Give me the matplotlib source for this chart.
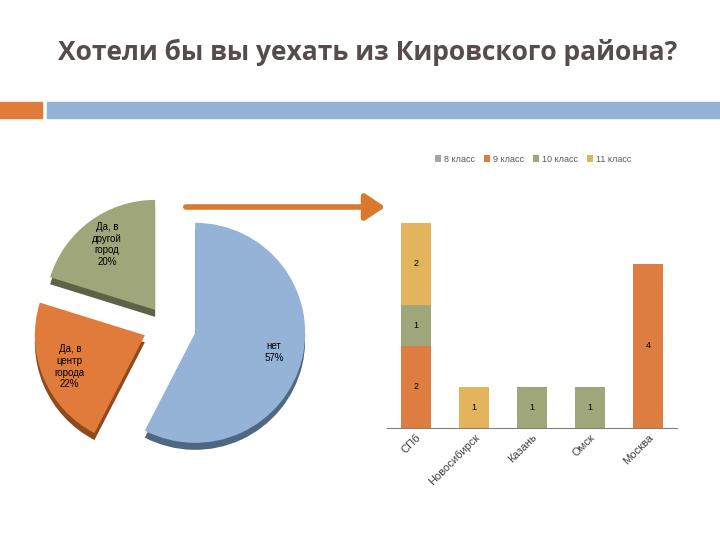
import numpy as np
import matplotlib
matplotlib.use("Agg")
import matplotlib.pyplot as plt
from matplotlib.patches import Rectangle, FancyArrowPatch

plt.rcParams['font.family'] = ['Liberation Sans', 'DejaVu Sans']

# pie data
pie_labels = ["нет", "Да, в\nцентр\nгорода", "Да, в\nдругой\nгород"]
pie_values = [57, 22, 20]
pie_colors = ["#95B3D7", "#E07B3C", "#9EA67A"]
pie_shadow = ["#4F6782", "#8E4A1E", "#5E6348"]

# bar data
cities = ["СПб", "Новосибирск", "Казань", "Омск", "Москва"]
grades = ["8 класс", "9 класс", "10 класс", "11 класс"]
grade8 = [0, 0, 0, 0, 0]
grade9 = [2, 0, 0, 0, 4]
grade10 = [1, 0, 1, 1, 0]
grade11 = [2, 1, 0, 0, 0]
bar_colors = ["#A6A6A6", "#DE7D42", "#9EA67A", "#E3B45C"]

fig = plt.figure(figsize=(7.2, 5.4), dpi=100)

# title and decoration strip
fig.text(0.51, 1 - 52 / 540, "Хотели бы вы уехать из Кировского района?",
         ha="center", va="center", fontsize=19, fontweight="bold",
         color="#574C4C", family=["Open Sans", "DejaVu Sans"])
fig.patches.append(Rectangle((0, 1 - 118 / 540), 42 / 720, 16 / 540,
                             transform=fig.transFigure, color="#E07B3C"))
fig.patches.append(Rectangle((47 / 720, 1 - 118 / 540), 673 / 720, 16 / 540,
                             transform=fig.transFigure, color="#95B3D7"))

# arrow
arrow = FancyArrowPatch((183 / 720, 1 - 207 / 540), (388 / 720, 1 - 207 / 540),
                        transform=fig.transFigure, arrowstyle="-|>,head_length=6,head_width=4",
                        color="#D9782F", lw=4, mutation_scale=2)
fig.patches.append(arrow)

# pie, in a pixel-like data space
ax_p = fig.add_axes([0, 0, 1, 1])
cx, cy, r = 167, 540 - 326, 110
explode = [29, 24, 20]
ax_p.pie(pie_values, colors=pie_shadow, startangle=90, counterclock=False,
         explode=explode, radius=r, center=(cx, cy - 7),
         wedgeprops=dict(linewidth=0))
labels = [f"{l}\n{v}%" for l, v in zip(pie_labels, pie_values)]
wedges, texts = ax_p.pie(pie_values, colors=pie_colors, startangle=90,
                         counterclock=False, explode=explode, radius=r,
                         center=(cx, cy), labels=labels, labeldistance=0.74,
                         wedgeprops=dict(linewidth=0),
                         textprops=dict(fontsize=7, color="black", ha="center",
                                        va="center", linespacing=1.2))
ax_p.set_xlim(0, 720)
ax_p.set_ylim(0, 540)
ax_p.set_aspect("equal")
ax_p.axis("off")

# stacked bars
ax_b = fig.add_axes([387 / 720, 1 - 428 / 540, 290 / 720, 226 / 540])
x = np.arange(len(cities))
bottom = np.zeros(len(cities))
handles = []
for name, vals, col in zip(grades, [grade8, grade9, grade10, grade11], bar_colors):
    vals = np.array(vals)
    bars = ax_b.bar(x, vals, 0.52, bottom=bottom, color=col, label=name)
    handles.append(bars)
    for b, v in zip(bars, vals):
        if v > 0:
            ax_b.text(b.get_x() + b.get_width() / 2, b.get_y() + v / 2, str(v),
                      ha="center", va="center", fontsize=6.5, color="black")
    bottom += vals
ax_b.set_xlim(-0.5, 4.5)
ax_b.set_ylim(0, 5.5)
ax_b.set_yticks([])
ax_b.set_xticks(x)
ax_b.set_xticklabels(cities, rotation=45, ha="right", rotation_mode="anchor",
                     fontsize=8, color="#404040")
ax_b.tick_params(axis="x", length=0, pad=3)
for s in ["top", "right", "left"]:
    ax_b.spines[s].set_visible(False)
ax_b.spines["bottom"].set_color("#808080")
ax_b.patch.set_alpha(0)

fig.legend(handles, grades, loc="center", bbox_to_anchor=(533 / 720, 1 - 159 / 540),
           ncol=4, frameon=False, fontsize=6.5, handlelength=0.7, handleheight=0.7,
           columnspacing=1.0, handletextpad=0.3, labelcolor="#595959")

fig.savefig("out.png", dpi=100)
